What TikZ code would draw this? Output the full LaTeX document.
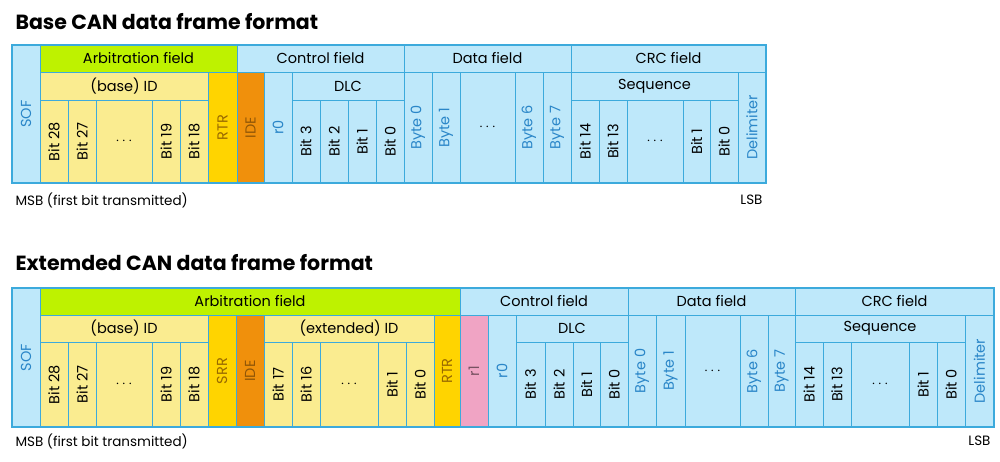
\documentclass[tikz,border=0pt]{standalone}
\usepackage{fontspec}
\setmainfont{Poppins}
\definecolor{canline}{HTML}{3CAADC}
\definecolor{canblue}{HTML}{BEE8FA}
\definecolor{cangreen}{HTML}{BEF200}
\definecolor{canyellow}{HTML}{FAEC90}
\definecolor{cangold}{HTML}{FFD400}
\definecolor{canorange}{HTML}{F0900C}
\definecolor{canpink}{HTML}{F0A4C4}
\definecolor{bluetext}{HTML}{2A86C8}
\tikzset{
  cell/.style={draw=canline, line width=1pt, inner sep=0pt, font=\fontsize{14.5}{16}\selectfont},
  vert/.style={cell, rotate=90},
  blu/.style={fill=canblue},
  yel/.style={fill=canyellow},
  bt/.style={text=bluetext},
  gold/.style={fill=cangold, text=cangold!55!black!90!red},
  orng/.style={fill=canorange, text=canorange!60!black},
  title/.style={anchor=west, font=\fontsize{20.5}{22}\selectfont\bfseries},
  note/.style={font=\fontsize{13.5}{15}\selectfont}
}
% cell: name, x1, y1, x2, y2, style, text
\newcommand\cell[7]{%
  \node[#6, minimum width={(#4-#2)*1pt}, minimum height={(#5-#3)*1pt}] (#1) at ({(#2+#4)/2},{(#3+#5)/2}) {#7};}
\newcommand\vcell[7]{%
  \node[vert, #6, minimum width={(#5-#3)*1pt}, minimum height={(#4-#2)*1pt}] (#1) at ({(#2+#4)/2},{(#3+#5)/2}) {#7};}
\begin{document}
\begin{tikzpicture}[x=1pt,y=-1pt]
\useasboundingbox (0,0) rectangle (1000,461);
% base frame
\node[title] (basetitle) at (12,22) {Base CAN data frame format};
\vcell{sofa}{12}{45}{40}{183}{blu,bt}{SOF}
\cell{arba}{40}{45}{237}{72}{cell,fill=cangreen}{Arbitration field}
\cell{ida}{40}{72}{208}{100}{cell,yel}{(base) ID}
\foreach \a/\b/\t in {40/68/Bit 28,68/96/Bit 27,152/180/Bit 19,180/208/Bit 18}
  \vcell{}{\a}{100}{\b}{183}{yel}{\t};
\cell{dotsa}{96}{100}{152}{183}{cell,yel}{$\cdots$}
\vcell{rtra}{208}{72}{237}{183}{gold}{RTR}
\vcell{idea}{237}{72}{264}{183}{orng}{IDE}
\cell{ctla}{237}{45}{404}{72}{cell,blu}{Control field}
\vcell{r0a}{264}{72}{292}{183}{blu,bt}{r0}
\cell{dlca}{292}{72}{404}{100}{cell,blu}{DLC}
\foreach \a/\b/\t in {292/320/Bit 3,320/348/Bit 2,348/376/Bit 1,376/404/Bit 0}
  \vcell{}{\a}{100}{\b}{183}{blu}{\t};
\cell{dataa}{404}{45}{571}{72}{cell,blu}{Data field}
\foreach \a/\b/\t in {404/432/Byte 0,432/460/Byte 1,515/543/Byte 6,543/571/Byte 7}
  \vcell{}{\a}{72}{\b}{183}{blu,bt}{\t};
\cell{bdotsa}{460}{72}{515}{183}{cell,blu}{$\cdots$}
\cell{crca}{571}{45}{766}{72}{cell,blu}{CRC field}
\cell{seqa}{571}{72}{738}{100}{cell,blu}{Sequence}
\foreach \a/\b/\t in {571/599/Bit 14,599/627/Bit 13,683/710/Bit 1,710/738/Bit 0}
  \vcell{}{\a}{100}{\b}{183}{blu}{\t};
\cell{cdotsa}{627}{100}{683}{183}{cell,blu}{$\cdots$}
\vcell{dela}{738}{72}{766}{183}{blu,bt}{Delimiter}
\draw[canline, line width=2.5pt] (12,45) rectangle (766,183);
\node[note, anchor=west] (msba) at (12,200) {MSB (first bit transmitted)};
\node[note, anchor=east] (lsba) at (766,200) {LSB};
% extended frame
\node[title] (exttitle) at (12,263) {Extemded CAN data frame format};
\vcell{sofb}{12}{288}{40}{427}{blu,bt}{SOF}
\cell{arbb}{40}{288}{460}{315}{cell,fill=cangreen}{Arbitration field}
\cell{idb}{40}{315}{208}{342}{cell,yel}{(base) ID}
\foreach \a/\b/\t in {40/68/Bit 28,68/96/Bit 27,152/180/Bit 19,180/208/Bit 18}
  \vcell{}{\a}{342}{\b}{427}{yel}{\t};
\cell{dotsb}{96}{342}{152}{427}{cell,yel}{$\cdots$}
\vcell{srrb}{208}{315}{236}{427}{gold}{SRR}
\vcell{ideb}{236}{315}{264}{427}{orng}{IDE}
\cell{extb}{264}{315}{434}{342}{cell,yel}{(extended) ID}
\foreach \a/\b/\t in {264/292/Bit 17,292/320/Bit 16,378/406/Bit 1,406/434/Bit 0}
  \vcell{}{\a}{342}{\b}{427}{yel}{\t};
\cell{edotsb}{320}{342}{378}{427}{cell,yel}{$\cdots$}
\vcell{rtrb}{434}{315}{460}{427}{gold}{RTR}
\cell{ctlb}{460}{288}{628}{315}{cell,blu}{Control field}
\vcell{r1b}{460}{315}{488}{427}{fill=canpink,text=canpink!50!black}{r1}
\vcell{r0b}{488}{315}{516}{427}{blu,bt}{r0}
\cell{dlcb}{516}{315}{628}{342}{cell,blu}{DLC}
\foreach \a/\b/\t in {516/545/Bit 3,545/573/Bit 2,573/600/Bit 1,600/628/Bit 0}
  \vcell{}{\a}{342}{\b}{427}{blu}{\t};
\cell{datab}{628}{288}{795}{315}{cell,blu}{Data field}
\foreach \a/\b/\t in {628/656/Byte 0,656/685/Byte 1,740/768/Byte 6,768/795/Byte 7}
  \vcell{}{\a}{315}{\b}{427}{blu,bt}{\t};
\cell{bdotsb}{685}{315}{740}{427}{cell,blu}{$\cdots$}
\cell{crcb}{795}{288}{994}{315}{cell,blu}{CRC field}
\cell{seqb}{795}{315}{965}{342}{cell,blu}{Sequence}
\foreach \a/\b/\t in {795/823/Bit 14,823/851/Bit 13,909/937/Bit 1,937/965/Bit 0}
  \vcell{}{\a}{342}{\b}{427}{blu}{\t};
\cell{cdotsb}{851}{342}{909}{427}{cell,blu}{$\cdots$}
\vcell{delb}{965}{315}{994}{427}{blu,bt}{Delimiter}
\draw[canline, line width=2.5pt] (12,288) rectangle (994,427);
\node[note, anchor=west] (msbb) at (12,441) {MSB (first bit transmitted)};
\node[note, anchor=east] (lsbb) at (994,441) {LSB};
\end{tikzpicture}
\end{document}
